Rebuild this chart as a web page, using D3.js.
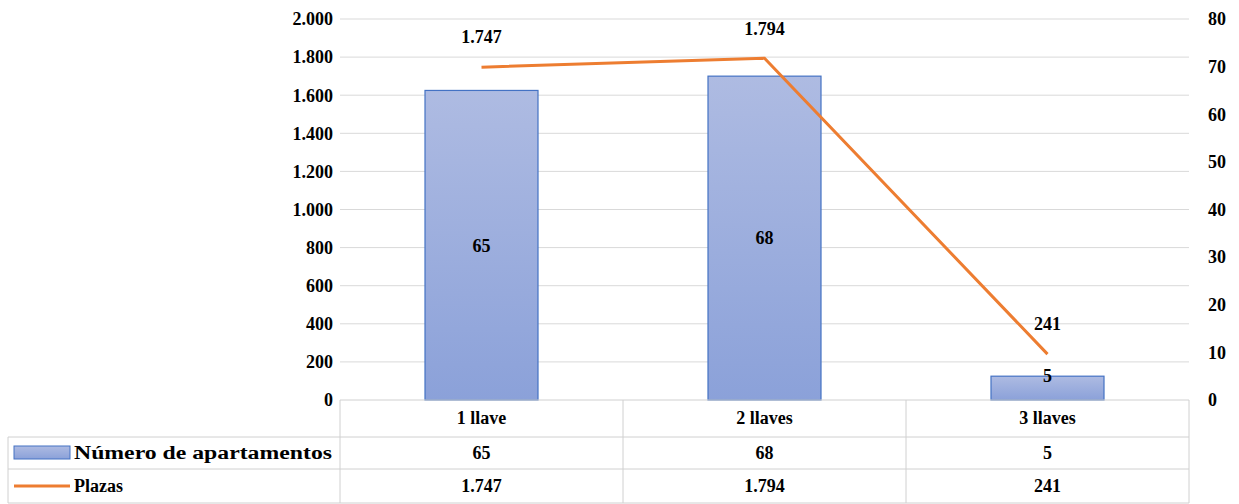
<!DOCTYPE html>
<html><head><meta charset="utf-8">
<script src="https://cdn.jsdelivr.net/npm/d3@7"></script>
<style>body{margin:0;background:#fff}text{font-family:"Liberation Serif",serif;font-weight:bold;font-size:18px;fill:#000}</style>
</head><body><div></div>
<script>
const categories = ["1 llave", "2 llaves", "3 llaves"];
const apartamentos = [65, 68, 5];
const plazas = [1747, 1794, 241];
const leftTicks = [0, 200, 400, 600, 800, 1000, 1200, 1400, 1600, 1800, 2000];
const rightTicks = [0, 10, 20, 30, 40, 50, 60, 70, 80];
const fmt = d3.formatLocale({decimal: ",", thousands: ".", grouping: [3], currency: ["", ""]}).format(",");

const W = 1239, H = 504, x0 = 340, x1 = 1189, yTop = 19, yBot = 400;
const svg = d3.select('div').append('svg').attr('width', W).attr('height', H);
const defs = svg.append('defs');
const g = defs.append('linearGradient').attr('id', 'bg').attr('x1', 0).attr('y1', 0).attr('x2', 0).attr('y2', 1);
g.append('stop').attr('offset', 0).attr('stop-color', '#aebbe2');
g.append('stop').attr('offset', 1).attr('stop-color', '#8ba1d9');

const x = d3.scaleBand().domain(categories).range([x0, x1]);
const yL = d3.scaleLinear().domain([0, 2000]).range([yBot, yTop]);
const yR = d3.scaleLinear().domain([0, 80]).range([yBot, yTop]);

// grid
svg.selectAll('.grid').data(leftTicks.slice(1)).join('line')
  .attr('x1', x0).attr('x2', x1).attr('y1', d => yL(d)).attr('y2', d => yL(d))
  .attr('stroke', '#d9d9d9').attr('stroke-width', 1);

svg.selectAll('.lt').data(leftTicks).join('text')
  .attr('x', 333).attr('y', d => yL(d)).attr('dy', '0.35em').attr('text-anchor', 'end').text(d => fmt(d));
svg.selectAll('.rt').data(rightTicks).join('text')
  .attr('x', 1208).attr('y', d => yR(d)).attr('dy', '0.35em').text(d => d);

// bars
const bw = 113;
svg.selectAll('.bar').data(apartamentos).join('rect')
  .attr('x', (d, i) => x(categories[i]) + x.bandwidth() / 2 - bw / 2)
  .attr('y', d => yR(d)).attr('width', bw).attr('height', d => yBot - yR(d))
  .attr('fill', 'url(#bg)').attr('stroke', '#4472c4').attr('stroke-width', 1.2);
svg.selectAll('.bl').data(apartamentos).join('text')
  .attr('x', (d, i) => x(categories[i]) + x.bandwidth() / 2)
  .attr('y', d => yBot - yR(d) < 40 ? yR(d) : (yR(d) + yBot) / 2).attr('dy', '0.35em').attr('text-anchor', 'middle').text(d => d);

// line
const line = d3.line().x((d, i) => x(categories[i]) + x.bandwidth() / 2).y(d => yL(d));
svg.append('path').datum(plazas).attr('d', line).attr('fill', 'none')
  .attr('stroke', '#ed7d31').attr('stroke-width', 3);
svg.selectAll('.ll').data(plazas).join('text')
  .attr('x', (d, i) => x(categories[i]) + x.bandwidth() / 2)
  .attr('y', d => yL(d) - 30).attr('dy', '0.35em').attr('text-anchor', 'middle').text(d => fmt(d));

// data table
const rows = [yBot, 437, 469, 503];
const tc = '#d0d0d0';
svg.append('line').attr('x1', x0).attr('x2', x1).attr('y1', yBot).attr('y2', yBot).attr('stroke', tc);
rows.slice(1).forEach(r => svg.append('line').attr('x1', 8).attr('x2', x1).attr('y1', r).attr('y2', r).attr('stroke', tc));
svg.append('line').attr('x1', 8).attr('x2', 8).attr('y1', 437).attr('y2', 503).attr('stroke', tc);
[x0, ...categories.map(c => x(c) + x.bandwidth())].forEach(v =>
  svg.append('line').attr('x1', v).attr('x2', v).attr('y1', yBot).attr('y2', 503).attr('stroke', tc));
categories.forEach(c => svg.append('text').attr('x', x(c) + x.bandwidth() / 2).attr('y', 418).attr('dy', '0.35em').attr('text-anchor', 'middle').text(c));
apartamentos.forEach((d, i) => svg.append('text').attr('x', x(categories[i]) + x.bandwidth() / 2).attr('y', 453).attr('dy', '0.35em').attr('text-anchor', 'middle').text(d));
plazas.forEach((d, i) => svg.append('text').attr('x', x(categories[i]) + x.bandwidth() / 2).attr('y', 486).attr('dy', '0.35em').attr('text-anchor', 'middle').text(fmt(d)));
svg.append('rect').attr('x', 14).attr('y', 446).attr('width', 56).attr('height', 13).attr('fill', 'url(#bg)').attr('stroke', '#4472c4');
svg.append('text').attr('x', 74).attr('y', 453).attr('dy', '0.35em')
  .attr('textLength', 258).attr('lengthAdjust', 'spacingAndGlyphs').text('Número de apartamentos');
svg.append('line').attr('x1', 14).attr('x2', 70).attr('y1', 486).attr('y2', 486).attr('stroke', '#ed7d31').attr('stroke-width', 3);
svg.append('text').attr('x', 74).attr('y', 486).attr('dy', '0.35em').text('Plazas');
</script></body></html>
